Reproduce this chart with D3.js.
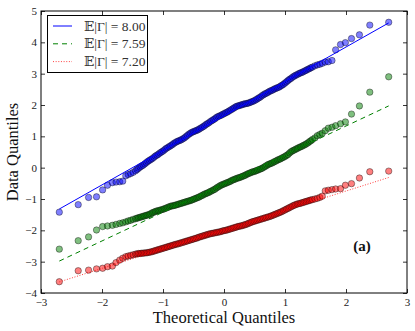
<!DOCTYPE html>
<html>
<head>
<meta charset="utf-8">
<script src="https://cdn.jsdelivr.net/npm/d3@7"></script>
<style>
  body { margin: 0; background: #fff; }
  svg { display: block; font-family: "Liberation Serif", "DejaVu Serif", serif; }
</style>
</head>
<body>
<svg></svg>
<script>
let width = 415;
let height = 331;

// theoretical quantiles (shared by all three samples)
let xq = [-2.70, -2.39, -2.22, -2.09, -1.99, -1.91, -1.83, -1.77, -1.71, -1.66, -1.61, -1.57, -1.53, -1.49,
  -1.450, -1.425, -1.400, -1.375, -1.350, -1.325, -1.300, -1.275, -1.250, -1.225, -1.200, -1.175, -1.150, -1.125,
  -1.100, -1.075, -1.050, -1.025, -1.000, -0.975, -0.950, -0.925, -0.900, -0.875, -0.850, -0.825, -0.800, -0.775,
  -0.750, -0.725, -0.700, -0.675, -0.650, -0.625, -0.600, -0.575, -0.550, -0.525, -0.500, -0.475, -0.450, -0.425,
  -0.400, -0.375, -0.350, -0.325, -0.300, -0.275, -0.250, -0.225, -0.200, -0.175, -0.150, -0.125, -0.100, -0.075,
  -0.050, -0.025, 0.000, 0.025, 0.050, 0.075, 0.100, 0.125, 0.150, 0.175, 0.200, 0.225, 0.250, 0.275,
  0.300, 0.325, 0.350, 0.375, 0.400, 0.425, 0.450, 0.475, 0.500, 0.525, 0.550, 0.575, 0.600, 0.625,
  0.650, 0.675, 0.700, 0.725, 0.750, 0.775, 0.800, 0.825, 0.850, 0.875, 0.900, 0.925, 0.950, 0.975,
  1.000, 1.025, 1.050, 1.075, 1.100, 1.125, 1.150, 1.175, 1.200, 1.225, 1.250, 1.275, 1.300, 1.325,
  1.350, 1.375, 1.400, 1.425, 1.450,
  1.49, 1.53, 1.57, 1.61, 1.66, 1.71, 1.77, 1.83, 1.91, 1.99, 2.09, 2.22, 2.39, 2.70];

// ordered data values
let blueY = [-1.42, -1.18, -0.95, -0.93, -0.71, -0.56, -0.48, -0.46, -0.45, -0.43, -0.26, -0.22, -0.19, -0.15,
  -0.10, -0.06, -0.02, 0.02, 0.05, 0.08, 0.12, 0.16, 0.20, 0.23, 0.26, 0.29, 0.33, 0.37,
  0.40, 0.43, 0.47, 0.50, 0.53, 0.57, 0.61, 0.64, 0.67, 0.70, 0.73, 0.77, 0.80, 0.83,
  0.85, 0.87, 0.89, 0.92, 0.95, 0.99, 1.03, 1.07, 1.10, 1.13, 1.15, 1.17, 1.19, 1.21,
  1.24, 1.27, 1.30, 1.33, 1.37, 1.40, 1.43, 1.47, 1.50, 1.53, 1.56, 1.60, 1.63, 1.65,
  1.67, 1.70, 1.72, 1.75, 1.77, 1.80, 1.83, 1.86, 1.89, 1.92, 1.95, 1.97, 1.98, 2.00,
  2.01, 2.03, 2.04, 2.05, 2.06, 2.08, 2.10, 2.12, 2.14, 2.17, 2.20, 2.23, 2.26, 2.30,
  2.33, 2.36, 2.38, 2.41, 2.44, 2.46, 2.48, 2.51, 2.53, 2.55, 2.57, 2.60, 2.63, 2.66,
  2.70, 2.74, 2.78, 2.82, 2.85, 2.89, 2.92, 2.95, 2.97, 3.00, 3.02, 3.04, 3.06, 3.09,
  3.11, 3.14, 3.16, 3.19, 3.21,
  3.25, 3.28, 3.30, 3.33, 3.37, 3.38, 3.42, 3.76, 3.93, 3.99, 4.12, 4.24, 4.55, 4.64];

let greenY = [-2.60, -2.33, -2.21, -1.99, -1.88, -1.86, -1.84, -1.81, -1.78, -1.76, -1.73, -1.70, -1.68, -1.65,
  -1.63, -1.61, -1.60, -1.58, -1.57, -1.55, -1.54, -1.52, -1.51, -1.49, -1.47, -1.44, -1.42, -1.40,
  -1.38, -1.37, -1.36, -1.34, -1.33, -1.31, -1.29, -1.27, -1.25, -1.23, -1.22, -1.21, -1.20, -1.18,
  -1.17, -1.15, -1.14, -1.12, -1.11, -1.09, -1.08, -1.06, -1.05, -1.03, -1.01, -0.99, -0.97, -0.95,
  -0.93, -0.90, -0.88, -0.85, -0.83, -0.81, -0.79, -0.76, -0.74, -0.71, -0.69, -0.65, -0.62, -0.59,
  -0.56, -0.54, -0.52, -0.50, -0.48, -0.46, -0.44, -0.41, -0.39, -0.37, -0.35, -0.33, -0.32, -0.30,
  -0.28, -0.26, -0.24, -0.21, -0.19, -0.17, -0.15, -0.13, -0.12, -0.10, -0.08, -0.06, -0.04, -0.02,
  0.01, 0.04, 0.07, 0.10, 0.12, 0.14, 0.16, 0.19, 0.21, 0.24, 0.26, 0.28, 0.31, 0.33,
  0.36, 0.39, 0.42, 0.47, 0.51, 0.54, 0.56, 0.59, 0.61, 0.64, 0.66, 0.68, 0.71, 0.73,
  0.76, 0.79, 0.83, 0.86, 0.90,
  0.95, 1.02, 1.06, 1.10, 1.18, 1.26, 1.29, 1.34, 1.40, 1.46, 1.71, 1.97, 2.41, 2.90];

let redY = [-3.64, -3.29, -3.27, -3.23, -3.21, -3.16, -3.14, -3.03, -2.95, -2.89, -2.84, -2.82, -2.80, -2.78,
  -2.76, -2.75, -2.74, -2.74, -2.73, -2.73, -2.72, -2.72, -2.71, -2.70, -2.69, -2.68, -2.66, -2.65,
  -2.63, -2.62, -2.60, -2.59, -2.57, -2.56, -2.54, -2.53, -2.51, -2.50, -2.48, -2.47, -2.45, -2.44,
  -2.43, -2.41, -2.40, -2.38, -2.37, -2.35, -2.34, -2.32, -2.31, -2.29, -2.28, -2.26, -2.25, -2.23,
  -2.21, -2.20, -2.18, -2.17, -2.15, -2.14, -2.12, -2.11, -2.10, -2.09, -2.08, -2.07, -2.06, -2.05,
  -2.04, -2.02, -2.01, -2.00, -1.99, -1.97, -1.96, -1.94, -1.93, -1.91, -1.90, -1.88, -1.87, -1.86,
  -1.85, -1.83, -1.82, -1.80, -1.78, -1.76, -1.74, -1.72, -1.71, -1.69, -1.68, -1.66, -1.65, -1.63,
  -1.62, -1.60, -1.59, -1.57, -1.56, -1.54, -1.52, -1.50, -1.48, -1.46, -1.44, -1.42, -1.40, -1.37,
  -1.35, -1.32, -1.30, -1.27, -1.25, -1.22, -1.20, -1.18, -1.16, -1.15, -1.14, -1.12, -1.11, -1.09,
  -1.08, -1.06, -1.05, -1.03, -1.02,
  -1.00, -0.98, -0.95, -0.91, -0.74, -0.72, -0.70, -0.68, -0.67, -0.56, -0.51, -0.33, -0.13, -0.11];

// least squares fits (slope, intercept)
let fitSlope = [1.10, 0.917, 0.617];
let fitIntercept = [1.65, -0.505, -1.98];
let fitRange = [-2.70, 2.70];

let seriesLabels = ['8.00', '7.59', '7.20'];
let seriesColors = ['#0000ff', '#008000', '#ff0000'];
let seriesDash = [null, '5,4', '1,1.65'];
let lineOpacity = [1, 1, 0.75];

let xTicks = [-3, -2, -1, 0, 1, 2, 3];
let yTicks = [-4, -3, -2, -1, 0, 1, 2, 3, 4, 5];

let margin = {left: 41, right: 8, top: 11, bottom: 38};

let x = d3.scaleLinear()
  .domain([-3, 3])
  .range([margin.left, width - margin.right]);

let y = d3.scaleLinear()
  .domain([-4, 5])
  .range([height - margin.bottom, margin.top]);

let svg = d3.select('svg')
  .attr('width', width)
  .attr('height', height);

let allY = [blueY, greenY, redY];

// points + fit lines, one series at a time
allY.forEach((ys, i) => {
  let pts = ys.map((v, j) => ({x: xq[j], y: v}));

  svg.append('g')
    .selectAll('circle')
    .data(pts)
    .enter()
    .append('circle')
      .attr('cx', d => x(d.x))
      .attr('cy', d => y(d.y))
      .attr('r', 3.2)
      .attr('fill', seriesColors[i])
      .attr('fill-opacity', 0.5)
      .attr('stroke', '#000')
      .attr('stroke-opacity', 0.55)
      .attr('stroke-width', 0.7);

  svg.append('line')
    .attr('x1', x(fitRange[0]))
    .attr('y1', y(fitIntercept[i] + fitSlope[i] * fitRange[0]))
    .attr('x2', x(fitRange[1]))
    .attr('y2', y(fitIntercept[i] + fitSlope[i] * fitRange[1]))
    .attr('stroke', seriesColors[i])
    .attr('stroke-opacity', lineOpacity[i])
    .attr('stroke-width', 1)
    .attr('stroke-dasharray', seriesDash[i]);
});

// axes, ticks pointing inward on all sides
let fmt = d3.format('');

svg.append('g')
  .attr('transform', `translate(0, ${y(-4)})`)
  .call(d3.axisBottom(x).tickValues(xTicks).tickSize(-4).tickPadding(5).tickFormat(fmt));

svg.append('g')
  .attr('transform', `translate(0, ${y(5)})`)
  .call(d3.axisTop(x).tickValues(xTicks).tickSize(-4).tickFormat(''));

svg.append('g')
  .attr('transform', `translate(${x(-3)}, 0)`)
  .call(d3.axisLeft(y).tickValues(yTicks).tickSize(-4).tickPadding(4).tickFormat(fmt));

svg.append('g')
  .attr('transform', `translate(${x(3)}, 0)`)
  .call(d3.axisRight(y).tickValues(yTicks).tickSize(-4).tickFormat(''));

svg.selectAll('.domain').remove();
svg.selectAll('.tick line').attr('stroke', '#000').attr('stroke-width', 0.8);
svg.selectAll('.tick text')
  .attr('font-family', '"Liberation Serif", serif')
  .attr('font-size', 11)
  .attr('fill', '#222');

svg.append('rect')
  .attr('x', x(-3))
  .attr('y', y(5))
  .attr('width', x(3) - x(-3))
  .attr('height', y(-4) - y(5))
  .attr('fill', 'none')
  .attr('stroke', '#000')
  .attr('stroke-width', 1);

// axis titles
svg.append('text')
  .attr('x', x(0))
  .attr('y', 323)
  .attr('text-anchor', 'middle')
  .attr('font-size', 16.5)
  .attr('fill', '#111')
  .text('Theoretical Quantiles');

svg.append('text')
  .attr('transform', `translate(18, ${(y(5) + y(-4)) / 2}) rotate(-90)`)
  .attr('text-anchor', 'middle')
  .attr('font-size', 16.5)
  .attr('fill', '#111')
  .text('Data Quantiles');

svg.append('text')
  .attr('x', 362)
  .attr('y', 251)
  .attr('text-anchor', 'middle')
  .attr('font-size', 15)
  .attr('font-weight', 'bold')
  .attr('fill', '#111')
  .text('(a)');

// legend
let legend = svg.append('g');

legend.append('rect')
  .attr('x', 47.5)
  .attr('y', 15.5)
  .attr('width', 100)
  .attr('height', 57)
  .attr('fill', '#fff')
  .attr('stroke', '#000')
  .attr('stroke-width', 1);

seriesLabels.forEach((lab, i) => {
  let ly = 26 + i * 17.8;
  legend.append('line')
    .attr('x1', 53)
    .attr('x2', 72)
    .attr('y1', ly)
    .attr('y2', ly)
    .attr('stroke', seriesColors[i])
    .attr('stroke-opacity', lineOpacity[i])
    .attr('stroke-width', 1)
    .attr('stroke-dasharray', seriesDash[i]);

  legend.append('text')
    .attr('x', 84)
    .attr('y', ly + 4.5)
    .attr('font-size', 13.5)
    .attr('fill', '#333')
    .text(`𝔼|Γ| = ${lab}`);
});
</script>
</body>
</html>
